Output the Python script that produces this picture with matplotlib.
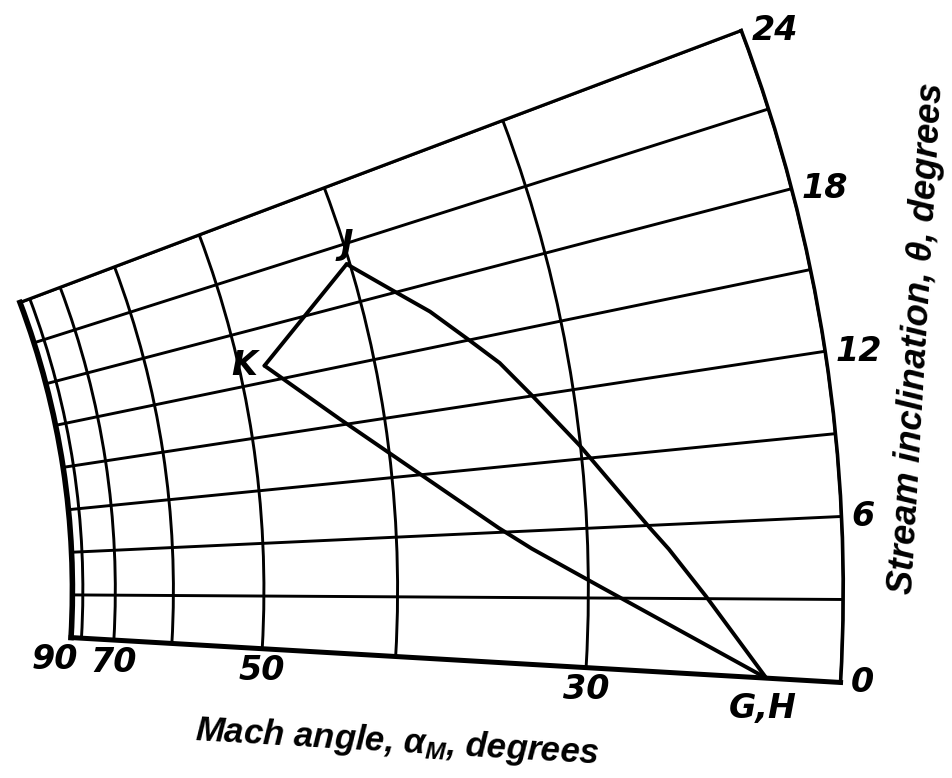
import numpy as np
import matplotlib
matplotlib.use("Agg")
import matplotlib.pyplot as plt

plt.rcParams["font.family"] = ["Liberation Sans", "DejaVu Sans"]
plt.rcParams["mathtext.fontset"] = "custom"
plt.rcParams["mathtext.it"] = "Liberation Sans:italic:bold"
plt.rcParams["mathtext.rm"] = "Liberation Sans:italic:bold"

#%% chart values (degrees)
theta_grid = [0, 3, 6, 9, 12, 15, 18, 21, 24]      # stream inclination lines
theta_labels = [0, 6, 12, 18, 24]
mu_grid = [90, 80, 70, 60, 50, 40, 30, 20]         # mach angle arcs
mu_labels = [90, 70, 50, 30]

# points: (stream inclination, mach angle)
K = (15.9, 47.8)
J = (20.0, 40.2)
GH = (0.0, 22.7)

# J -> G,H
jg_theta = [20.0, 18.0, 16.7, 15.0, 13.7, 12.0, 9.6, 5.9, 5.0, 3.1, 0.0]
jg_mu = [40.2, 37.8, 36.2, 34.5, 33.2, 31.9, 30.05, 27.3, 26.55, 25.1, 22.7]
# K -> G,H
kg_theta = [15.9, 12.3, 6.2, 5.2, 3.5, 0.0]
kg_mu = [47.8, 42.9, 34.2, 32.6, 29.5, 22.7]

GAMMA = 1.4


def mstar(mu_deg):
    """hodograph radius q/a* for a given mach angle"""
    m2 = 1.0 / np.sin(np.deg2rad(np.asarray(mu_deg, dtype=float))) ** 2
    return np.sqrt((GAMMA + 1) * m2 / (2 + (GAMMA - 1) * m2))


#%% hodograph
W, H = 953, 778
fig = plt.figure(figsize=(W / 100, H / 100), dpi=100)
ax = fig.add_axes([20 / W, 8 / H, 827 / W, 827 / H], projection="polar")
ax.set_thetamin(0)
ax.set_thetamax(24)
ax.set_theta_offset(np.deg2rad(-3.34))
ax.set_rlim(mstar(90), mstar(20))
ax.set_rorigin(0)

ax.set_xticks(np.deg2rad(theta_grid))
ax.set_xticklabels([])
ax.set_yticks(mstar(mu_grid))
ax.set_yticklabels([])
ax.tick_params(length=0)
ax.grid(True, color="black", linewidth=2.1)

ax.spines["polar"].set_linewidth(2.6)
ax.spines["inner"].set_linewidth(4.0)
ax.spines["start"].set_linewidth(3.6)
ax.spines["end"].set_linewidth(2.3)

line_kw = dict(color="black", linewidth=2.8, solid_joinstyle="round",
               solid_capstyle="round", clip_on=False)
ax.plot(np.deg2rad(kg_theta), mstar(kg_mu), **line_kw)
ax.plot(np.deg2rad([K[0], J[0]]), mstar([K[1], J[1]]), **line_kw)
ax.plot(np.deg2rad(jg_theta), mstar(jg_mu), **line_kw)

lab = dict(fontsize=24, fontweight="bold", fontstyle="italic",
           family=["DejaVu Sans"], textcoords="offset pixels",
           annotation_clip=False)

for mu in mu_labels:
    dx = -16 if mu == 90 else 0
    ax.annotate(str(mu), xy=(0, mstar(mu)), xytext=(dx, -22),
                ha="center", va="center", **lab)

for t in theta_labels:
    ax.annotate(str(t), xy=(np.deg2rad(t), mstar(20)), xytext=(10, 0),
                ha="left", va="center", **lab)

ax.annotate("J", xy=(np.deg2rad(J[0]), mstar(J[1])), xytext=(0, 20),
            ha="center", va="center", **lab)
ax.annotate("K", xy=(np.deg2rad(K[0]), mstar(K[1])), xytext=(-20, 0),
            ha="center", va="center", **lab)
ax.annotate("G,H", xy=(np.deg2rad(GH[0]), mstar(GH[1])), xytext=(-4, -30),
            ha="center", va="center", **lab)

fig.text(397 / W, 1 - 742 / H, r"Mach angle, $\alpha_M$, degrees",
         fontsize=25, fontweight="bold", fontstyle="italic",
         rotation=-3.34, rotation_mode="anchor", ha="center", va="center")
fig.text(917 / W, 1 - 338 / H, "Stream inclination, θ, degrees",
         fontsize=26, fontweight="bold", fontstyle="italic",
         rotation=86.66, rotation_mode="anchor", ha="center", va="center")

fig.savefig("out.png", dpi=100)
